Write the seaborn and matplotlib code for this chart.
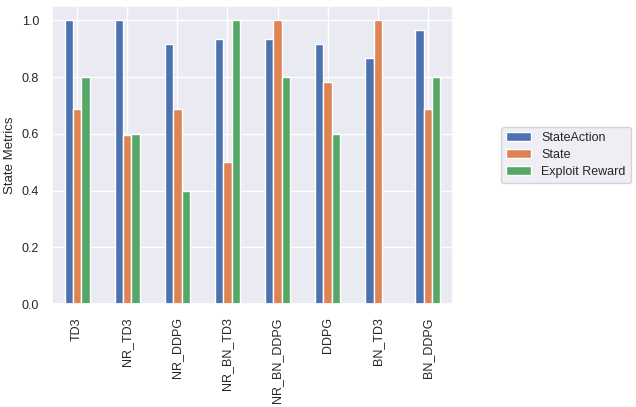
import numpy as np
import pandas as pd
import seaborn as sns
import matplotlib.pyplot as plt

# --- data --------------------------------------------------------------------
models = ["TD3", "NR_TD3", "NR_DDPG", "NR_BN_TD3", "NR_BN_DDPG", "DDPG", "BN_TD3", "BN_DDPG"]
state_action = [1.0, 1.0, 0.917, 0.933, 0.933, 0.917, 0.867, 0.967]
state = [0.6875, 0.594, 0.6875, 0.5, 1.0, 0.781, 1.0, 0.6875]
exploit_reward = [0.8, 0.6, 0.4, 1.0, 0.8, 0.6, np.nan, 0.8]
metrics = ["StateAction", "State", "Exploit Reward"]

df = pd.DataFrame({"model": models, "StateAction": state_action,
                   "State": state, "Exploit Reward": exploit_reward})
long_df = df.melt(id_vars="model", value_vars=metrics,
                  var_name="metric", value_name="value")

# --- plot -------------------------------------------------------------------
sns.set_theme(style="darkgrid", palette="deep")
plt.rcParams["font.family"] = ["Liberation Sans", "DejaVu Sans"]

fig = plt.figure(figsize=(6.36, 4.07), dpi=100)
ax = fig.add_axes([0.082, 0.253, 0.63, 0.732])

sns.barplot(data=long_df, x="model", y="value", hue="metric",
            order=models, hue_order=metrics, width=0.5, saturation=1,
            edgecolor="white", linewidth=1, ax=ax)

ax.xaxis.grid(True)
ax.set_xlim(-0.5, len(models) - 0.5)
ax.set_ylim(0, 1.05)
ax.set_xlabel("")
ax.set_ylabel("State Metrics", fontsize=9.5)
ax.tick_params(axis="x", labelrotation=90, labelsize=9)
ax.tick_params(axis="y", labelsize=9)

ax.legend(loc="center left", bbox_to_anchor=(1.105, 0.5), fontsize=9,
          labelspacing=0.4, title=None)

fig.savefig("out.png", dpi=100)
